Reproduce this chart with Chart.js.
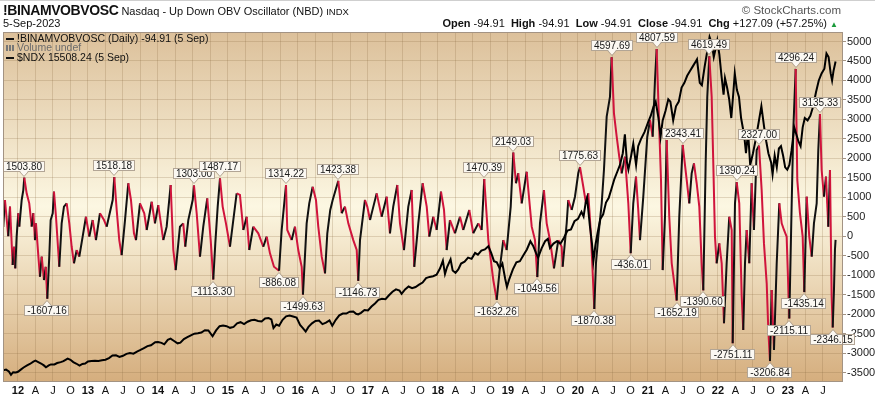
<!DOCTYPE html>
<html lang="en">
<head>
<meta charset="UTF-8">
<title>!BINAMVOBVOSC - Nasdaq Up Down OBV Oscillator</title>
<script src="https://cdn.jsdelivr.net/npm/chart.js@4.4.0/dist/chart.umd.min.js"></script>
<style>
    html, body { margin: 0; padding: 0; background: #fff; }
    body { width: 875px; height: 397px; position: relative; overflow: hidden; font-family: "Liberation Sans", Arial, sans-serif; color: #111; }
    #chart { position: absolute; left: 0; top: 0; }
    .abs { position: absolute; white-space: nowrap; }
    #topline { left: 0; top: 0; width: 875px; height: 1px; background: #cfcfcf; }
    #title { left: 3px; top: 3px; font-size: 11px; line-height: 14px; }
    #title b { font-size: 14px; letter-spacing: -0.4px; }
    #title small { font-size: 9.5px; }
    #date { left: 3px; top: 17px; font-size: 11px; }
    #brand { right: 34px; top: 4px; font-size: 11.5px; color: #555; }
    #ohlc { right: 37px; top: 17px; font-size: 11px; }
    #ohlc .up { color: #1a9a3a; font-size: 8px; }
    #legend { left: 6px; top: 34px; font-size: 10.5px; line-height: 9.4px; }
    #legend .dash { display: inline-block; width: 8px; height: 2px; background: #111; vertical-align: middle; margin-right: 3px; }
    #legend .vol { color: #6c6c6c; }
    #legend .bars { display: inline-block; width: 8px; height: 6px; margin-right: 3px;
        background: linear-gradient(90deg, #777 0 2px, transparent 2px 3px, #777 3px 5px, transparent 5px 6px, #777 6px 8px); }
</style>
</head>
<body>
<canvas id="chart" width="875" height="397"></canvas>
<div class="abs" id="topline"></div>
<div class="abs" id="title"><b>!BINAMVOBVOSC</b> Nasdaq - Up Down OBV Oscillator (NBD) <small>INDX</small></div>
<div class="abs" id="date">5-Sep-2023</div>
<div class="abs" id="brand">&copy; StockCharts.com</div>
<div class="abs" id="ohlc"><b>Open</b> -94.91 &nbsp;<b>High</b> -94.91 &nbsp;<b>Low</b> -94.91 &nbsp;<b>Close</b> -94.91 &nbsp;<b>Chg</b> +127.09 (+57.25%) <span class="up">&#9650;</span></div>
<div class="abs" id="legend">
    <div><span class="dash"></span>!BINAMVOBVOSC (Daily) -94.91 (5 Sep)</div>
    <div class="vol"><span class="bars"></span>Volume undef</div>
    <div><span class="dash"></span>$NDX 15508.24 (5 Sep)</div>
</div>

<script>
    // dates are decimal years (2012.5 = start of July 2012)
    const oscDates = [
        2011.790, 2011.814, 2011.861, 2011.886, 2011.924, 2011.943, 2011.961, 2011.981,
        2012.004, 2012.019, 2012.053, 2012.076, 2012.090, 2012.124, 2012.161, 2012.196,
        2012.219, 2012.243, 2012.257, 2012.290, 2012.314, 2012.339, 2012.371, 2012.396,
        2012.419, 2012.447, 2012.467, 2012.496, 2012.514, 2012.543, 2012.590, 2012.624,
        2012.657, 2012.696, 2012.733, 2012.767, 2012.800, 2012.839, 2012.876, 2012.924,
        2012.971, 2013.019, 2013.067, 2013.114, 2013.171, 2013.229, 2013.267, 2013.353,
        2013.376, 2013.410, 2013.447, 2013.481, 2013.529, 2013.576, 2013.614, 2013.657,
        2013.686, 2013.743, 2013.804, 2013.839, 2013.910, 2013.957, 2014.004, 2014.076,
        2014.124, 2014.181, 2014.219, 2014.253, 2014.314, 2014.361, 2014.390, 2014.433,
        2014.496, 2014.514, 2014.553, 2014.600, 2014.647, 2014.704, 2014.753, 2014.790,
        2014.819, 2014.853, 2014.886, 2014.924, 2014.971, 2015.029, 2015.124, 2015.171,
        2015.219, 2015.267, 2015.304, 2015.361, 2015.433, 2015.504, 2015.553, 2015.600,
        2015.657, 2015.729, 2015.767, 2015.829, 2015.847, 2015.910, 2015.957, 2016.004,
        2016.053, 2016.071, 2016.124, 2016.161, 2016.210, 2016.257, 2016.290, 2016.339,
        2016.386, 2016.419, 2016.461, 2016.496, 2016.576, 2016.624, 2016.671, 2016.719,
        2016.790, 2016.839, 2016.861, 2016.886, 2016.957, 2016.990, 2017.029, 2017.124,
        2017.196, 2017.267, 2017.314, 2017.361, 2017.419, 2017.457, 2017.514, 2017.576,
        2017.624, 2017.661, 2017.719, 2017.781, 2017.839, 2017.876, 2017.933, 2017.981,
        2018.043, 2018.086, 2018.124, 2018.171, 2018.243, 2018.314, 2018.361, 2018.447,
        2018.504, 2018.576, 2018.624, 2018.661, 2018.719, 2018.790, 2018.839, 2018.886,
        2018.933, 2018.981, 2019.039, 2019.076, 2019.114, 2019.147, 2019.196, 2019.267,
        2019.339, 2019.386, 2019.419, 2019.457, 2019.514, 2019.553, 2019.600, 2019.657,
        2019.719, 2019.767, 2019.781, 2019.839, 2019.861, 2019.910, 2019.957, 2020.004,
        2020.029, 2020.076, 2020.114, 2020.147, 2020.181, 2020.204, 2020.233, 2020.257,
        2020.290, 2020.339, 2020.371, 2020.410, 2020.457, 2020.481, 2020.514, 2020.553,
        2020.590, 2020.624, 2020.671, 2020.719, 2020.753, 2020.790, 2020.829, 2020.861,
        2020.886, 2020.933, 2020.990, 2021.029, 2021.067, 2021.100, 2021.124, 2021.157,
        2021.186, 2021.210, 2021.243, 2021.267, 2021.304, 2021.339, 2021.376, 2021.410,
        2021.447, 2021.496, 2021.553, 2021.590, 2021.624, 2021.657, 2021.696, 2021.733,
        2021.767, 2021.790, 2021.824, 2021.847, 2021.876, 2021.910, 2021.933, 2021.957,
        2021.981, 2022.019, 2022.053, 2022.086, 2022.124, 2022.161, 2022.196, 2022.210,
        2022.243, 2022.267, 2022.304, 2022.339, 2022.361, 2022.386, 2022.410, 2022.447,
        2022.481, 2022.514, 2022.553, 2022.586, 2022.624, 2022.657, 2022.696, 2022.719,
        2022.743, 2022.767, 2022.800, 2022.839, 2022.876, 2022.910, 2022.943, 2022.981,
        2023.019, 2023.053, 2023.076, 2023.110, 2023.133, 2023.171, 2023.210, 2023.233,
        2023.267, 2023.304, 2023.339, 2023.371, 2023.410, 2023.433, 2023.457, 2023.481,
        2023.514, 2023.543, 2023.576, 2023.600, 2023.624, 2023.639, 2023.657, 2023.671,
        2023.680
    ];
    const oscValues = [
        240, 930, 0, 760, -740, -270, -825, -10,
        590, 245, 930, 1185, 1503.80, 1100, 845, 245,
        590, -100, 330, -485, -1040, -525, -1125, -785,
        -1607.16, -525, 415, 590, 1145, 500, -785, 330,
        760, 845, 330, -270, -695, -355, -525, -10,
        500, -10, 415, -100, 590, 415, 245, 930,
        1518.18, 675, -100, -485, 415, 1360, 930, 75,
        -100, 845, 590, 160, 885, 330, 800, -100,
        245, 1315, -355, -870, 245, 330, -270, 415,
        930, 1303.00, 590, -525, 245, 970, -100, -1113.30,
        -185, 760, 1487.17, 760, 330, -270, 1100, 1060,
        160, 500, -355, 245, 75, -270, -10, -440,
        -785, -886.08, 160, 1314.22, 160, -100, 245, -355,
        -785, -1499.63, 330, 845, 1270, 930, 245, -525,
        -955, 75, 675, 930, 1423.38, 590, 760, 330,
        -100, -355, -1146.73, -100, 930, 760, 415, 1100,
        500, 1015, 75, 760, 1315, 330, -355, 760,
        1185, -785, 330, 1360, 760, -10, 500, 160,
        1145, 675, -355, 415, 75, 500, 160, 675,
        75, 330, 160, 1470.39, -100, -1125, -1632.26, -785,
        -100, -355, 760, 2149.03, 1360, 1615, 845, 1655,
        245, -100, -1049.56, 330, 1185, 330, -100, -825,
        -100, -270, -785, 340, 930, 675, 1015, 1615,
        1775.63, 1270, 845, 1100, 160, -695, -1870.38, -695,
        -10, 845, 1700, 3070, 3580, 4597.69, 3155, 2555,
        2040, 1615, 2040, 845, -436.01, 845, 1530, 675,
        -100, 1015, 2555, 2985, 2555, 4010, 4807.59, 2985,
        1445, -870, 500, 2470, 500, -695, -1210, -1652.19,
        500, 2343.41, 1445, 845, 1615, 1870, 1360, 760,
        -695, -1390.60, 1870, 3580, 4619.49, 3580, 1870, -10,
        -695, -185, -695, -2235, -695, 500, 160, -2751.11,
        845, 1390.24, 845, -1555, -2410, -695, 160, -695,
        1360, 160, 2215, 2327.00, 1185, -185, -1210, -2410,
        -3206.84, -1380, -2920, -695, 845, 330, 160, -10,
        -2115.11, 845, 2725, 4296.24, 1445, 590, -10, -1435.14,
        1015, -10, -525, 330, 845, 2215, 3135.33, 1700,
        1015, 1530, 245, 1700, -1555, -2346.15, -1380, -355,
        -94.91
    ];

    const ndxDates = [
        2011.790, 2011.830, 2011.870, 2011.900, 2011.930, 2011.970, 2012.000, 2012.040,
        2012.080, 2012.130, 2012.170, 2012.220, 2012.250, 2012.290, 2012.330, 2012.370,
        2012.400, 2012.440, 2012.470, 2012.520, 2012.560, 2012.610, 2012.650, 2012.710,
        2012.750, 2012.790, 2012.830, 2012.880, 2012.920, 2012.960, 2013.000, 2013.050,
        2013.100, 2013.150, 2013.200, 2013.250, 2013.300, 2013.350, 2013.400, 2013.450,
        2013.500, 2013.550, 2013.600, 2013.650, 2013.700, 2013.750, 2013.800, 2013.850,
        2013.900, 2013.960, 2014.000, 2014.050, 2014.090, 2014.140, 2014.180, 2014.230,
        2014.280, 2014.320, 2014.370, 2014.420, 2014.470, 2014.520, 2014.570, 2014.620,
        2014.670, 2014.720, 2014.780, 2014.830, 2014.880, 2014.930, 2014.980, 2015.030,
        2015.080, 2015.130, 2015.180, 2015.230, 2015.280, 2015.330, 2015.380, 2015.430,
        2015.480, 2015.530, 2015.580, 2015.620, 2015.650, 2015.690, 2015.730, 2015.780,
        2015.830, 2015.880, 2015.930, 2015.980, 2016.030, 2016.070, 2016.110, 2016.150,
        2016.200, 2016.250, 2016.300, 2016.350, 2016.400, 2016.450, 2016.490, 2016.540,
        2016.590, 2016.640, 2016.690, 2016.740, 2016.790, 2016.830, 2016.860, 2016.900,
        2016.950, 2017.000, 2017.050, 2017.100, 2017.150, 2017.200, 2017.250, 2017.300,
        2017.350, 2017.400, 2017.450, 2017.480, 2017.530, 2017.580, 2017.630, 2017.680,
        2017.730, 2017.780, 2017.830, 2017.880, 2017.930, 2017.980, 2018.030, 2018.070,
        2018.100, 2018.130, 2018.180, 2018.210, 2018.250, 2018.290, 2018.330, 2018.380,
        2018.430, 2018.480, 2018.530, 2018.570, 2018.620, 2018.670, 2018.720, 2018.760,
        2018.800, 2018.840, 2018.880, 2018.920, 2018.960, 2018.985, 2019.020, 2019.070,
        2019.120, 2019.170, 2019.220, 2019.270, 2019.320, 2019.360, 2019.400, 2019.430,
        2019.480, 2019.530, 2019.570, 2019.600, 2019.650, 2019.700, 2019.750, 2019.800,
        2019.850, 2019.900, 2019.950, 2020.000, 2020.050, 2020.080, 2020.110, 2020.130,
        2020.170, 2020.200, 2020.220, 2020.250, 2020.280, 2020.320, 2020.360, 2020.400,
        2020.440, 2020.480, 2020.520, 2020.560, 2020.600, 2020.640, 2020.670, 2020.700,
        2020.720, 2020.760, 2020.790, 2020.830, 2020.860, 2020.900, 2020.950, 2021.000,
        2021.040, 2021.080, 2021.110, 2021.150, 2021.180, 2021.210, 2021.250, 2021.290,
        2021.320, 2021.360, 2021.400, 2021.440, 2021.480, 2021.520, 2021.560, 2021.600,
        2021.640, 2021.680, 2021.700, 2021.740, 2021.770, 2021.810, 2021.850, 2021.880,
        2021.910, 2021.940, 2021.970, 2021.990, 2022.020, 2022.050, 2022.080, 2022.100,
        2022.130, 2022.160, 2022.190, 2022.220, 2022.240, 2022.270, 2022.300, 2022.330,
        2022.360, 2022.380, 2022.400, 2022.430, 2022.460, 2022.500, 2022.540, 2022.580,
        2022.620, 2022.660, 2022.690, 2022.720, 2022.760, 2022.780, 2022.810, 2022.840,
        2022.870, 2022.900, 2022.930, 2022.960, 2022.990, 2023.020, 2023.050, 2023.090,
        2023.120, 2023.150, 2023.180, 2023.210, 2023.240, 2023.280, 2023.320, 2023.360,
        2023.400, 2023.440, 2023.480, 2023.520, 2023.550, 2023.580, 2023.610, 2023.630,
        2023.650, 2023.680
    ];
    const ndxValues = [
        2350, 2380, 2300, 2160, 2270, 2260, 2290, 2380,
        2470, 2560, 2620, 2720, 2760, 2700, 2640, 2560,
        2480, 2560, 2600, 2600, 2660, 2700, 2740, 2850,
        2800, 2700, 2640, 2550, 2620, 2640, 2730, 2750,
        2760, 2750, 2780, 2800, 2870, 2980, 2990, 2920,
        2970, 3050, 3090, 3060, 3150, 3220, 3300, 3380,
        3420, 3550, 3560, 3520, 3460, 3650, 3700, 3600,
        3500, 3530, 3680, 3760, 3840, 3910, 3930, 3960,
        4060, 4050, 3800, 4050, 4230, 4260, 4230, 4160,
        4200, 4350, 4400, 4320, 4420, 4480, 4500, 4450,
        4430, 4560, 4580, 4520, 4150, 4300, 4250, 4500,
        4650, 4680, 4640, 4600, 4280, 4150, 4000, 4200,
        4350, 4450, 4470, 4320, 4380, 4480, 4250, 4500,
        4690, 4770, 4770, 4850, 4860, 4760, 4730, 4800,
        4920, 4900, 5070, 5200, 5350, 5400, 5380, 5550,
        5700, 5800, 5750, 5610, 5800, 5920, 5850, 5900,
        6000, 6090, 6280, 6330, 6360, 6420, 6700, 7020,
        6450, 6750, 7080, 6600, 6500, 6650, 6900, 6980,
        7150, 7100, 7350, 7280, 7450, 7500, 7640, 7350,
        7000, 6950, 6700, 6900, 6250, 5900, 6250, 6650,
        6950, 7000, 7250, 7500, 7850, 7650, 7350, 7150,
        7550, 7850, 7950, 7560, 7750, 7850, 7750, 8000,
        8300, 8350, 8700, 8800, 9100, 8900, 9500, 9700,
        8500, 7750, 7000, 7700, 8200, 8800, 9000, 9500,
        9700, 10100, 10500, 10800, 11100, 11600, 12400, 11200,
        10900, 11500, 12000, 11100, 11900, 12200, 12500, 12900,
        13200, 13600, 13800, 13100, 12300, 13000, 13400, 13900,
        13800, 13000, 13600, 13800, 14400, 14600, 14900, 15100,
        15300, 15500, 15600, 14600, 14500, 15300, 16000, 16550,
        16300, 15700, 16100, 16400, 15800, 14900, 14100, 14800,
        14400, 13900, 13100, 14200, 15000, 14300, 14000, 13100,
        12600, 12200, 11600, 12500, 11100, 11600, 12200, 12900,
        13600, 12700, 12100, 11600, 11200, 10700, 11500, 11000,
        11800, 11900, 11500, 11000, 10900, 11100, 11700, 12700,
        12400, 12100, 11900, 12700, 13100, 13000, 13200, 13600,
        14200, 14700, 15000, 15200, 15850, 15700, 15000, 14700,
        15100, 15508.24
    ];

    // labelled turning points of the oscillator
    const calloutValues = [
        1503.80, 1518.18, 1303.00, 1487.17, 1314.22, 1423.38, 1470.39, 2149.03,
        1775.63, 4597.69, 4807.59, 2343.41, 4619.49, 1390.24, 2327.00, 4296.24, 3135.33,
        -1607.16, -1113.30, -886.08, -1499.63, -1146.73, -1632.26, -1049.56, -1870.38,
        -436.01, -1652.19, -1390.60, -2751.11, -3206.84, -2115.11, -1435.14, -2346.15
    ];

    const years = [12, 13, 14, 15, 16, 17, 18, 19, 20, 21, 22, 23];
    const quarterNames = ['A', 'J', 'O'];
    const lastTick = 2023.5;
    const yTicks = [-3500, -3000, -2500, -2000, -1500, -1000, -500, 0, 500, 1000, 1500, 2000, 2500, 3000, 3500, 4000, 4500, 5000];

    const RED = '#d0143c';
    const FONT = '"Liberation Sans", Arial, sans-serif';

    function quarterLabel(v) {
        const yr = Math.floor(v + 1e-6);
        const q = Math.round((v - yr) * 4);
        return q === 0 ? String(yr - 2000) : quarterNames[q - 1];
    }

    const bgPlugin = {
        id: 'bg',
        beforeDraw(chart) {
            const { ctx, chartArea: a } = chart;
            const g = ctx.createLinearGradient(0, a.top, 0, a.bottom);
            g.addColorStop(0, '#dcc09a');
            g.addColorStop(0.5, '#fcf7e2');
            g.addColorStop(1, '#d5ae7e');
            ctx.save();
            ctx.fillStyle = g;
            ctx.fillRect(a.left, a.top, a.right - a.left, a.bottom - a.top);
            ctx.restore();
        },
        afterDraw(chart) {
            const { ctx, chartArea: a } = chart;
            ctx.save();
            ctx.strokeStyle = '#a39383';
            ctx.lineWidth = 1;
            ctx.strokeRect(a.left + 0.5, a.top + 0.5, a.right - a.left - 1, a.bottom - a.top);
            ctx.restore();
        }
    };

    const calloutPlugin = {
        id: 'callouts',
        afterDatasetsDraw(chart) {
            const ctx = chart.ctx;
            const xs = chart.scales.x, ys = chart.scales.y;
            ctx.save();
            ctx.font = '10px ' + FONT;
            ctx.textAlign = 'center';
            ctx.textBaseline = 'middle';
            calloutValues.forEach(v => {
                const i = oscValues.indexOf(v);
                if (i < 0) return;
                const px = Math.round(xs.getPixelForValue(oscDates[i]));
                const py = ys.getPixelForValue(v);
                const txt = v.toFixed(2);
                const w = Math.round(ctx.measureText(txt).width) + 6, h = 11;
                const up = v > 0;
                const by = up ? Math.round(py) - 6 - h : Math.round(py) + 6;
                const bx = px - Math.round(w / 2);
                ctx.fillStyle = '#fbf8f2';
                ctx.strokeStyle = '#b2a595';
                ctx.lineWidth = 1;
                ctx.fillRect(bx, by, w, h);
                ctx.strokeRect(bx + 0.5, by + 0.5, w - 1, h - 1);
                // pointer
                const baseY = up ? by + h - 1 : by + 1;
                ctx.beginPath();
                ctx.moveTo(px - 4, baseY);
                ctx.lineTo(px, up ? baseY + 5 : baseY - 5);
                ctx.lineTo(px + 4, baseY);
                ctx.closePath();
                ctx.fill();
                ctx.beginPath();
                ctx.moveTo(px - 4.5, baseY + (up ? 0.5 : -0.5));
                ctx.lineTo(px, up ? baseY + 5.5 : baseY - 5.5);
                ctx.lineTo(px + 4.5, baseY + (up ? 0.5 : -0.5));
                ctx.stroke();
                ctx.fillStyle = '#1a1a1a';
                ctx.fillText(txt, px, by + h / 2 + 0.5);
            });
            ctx.restore();
        }
    };

    const oscPts = oscDates.map((d, i) => ({ x: d, y: oscValues[i] }));
    const ndxPts = ndxDates.map((d, i) => ({ x: d, y: ndxValues[i] }));

    new Chart(document.getElementById('chart'), {
        type: 'line',
        data: {
            datasets: [
                {
                    label: '!BINAMVOBVOSC',
                    data: oscPts,
                    yAxisID: 'y',
                    borderColor: RED,
                    borderWidth: 2,
                    pointRadius: 0,
                    tension: 0,
                    order: 2,
                    segment: {
                        borderColor: c => c.p1.parsed.y > c.p0.parsed.y ? '#111' : RED
                    }
                },
                {
                    label: '$NDX',
                    data: ndxPts,
                    yAxisID: 'yNdx',
                    borderColor: '#000',
                    borderWidth: 2,
                    pointRadius: 0,
                    tension: 0,
                    order: 1
                }
            ]
        },
        options: {
            responsive: false,
            animation: false,
            devicePixelRatio: 1,
            layout: { padding: { top: 32, left: 3, right: 0, bottom: 0 } },
            plugins: { legend: { display: false }, tooltip: { enabled: false } },
            scales: {
                x: {
                    type: 'linear',
                    min: 2011.786,
                    max: 2023.786,
                    afterBuildTicks(scale) {
                        const t = [];
                        years.forEach(y => {
                            for (let q = 0; q < 4; q++) {
                                const v = 2000 + y + q / 4;
                                if (v <= lastTick) t.push({ value: v });
                            }
                        });
                        scale.ticks = t;
                    },
                    afterFit(scale) { scale.height = 16; },
                    grid: { color: 'rgba(130,100,60,0.22)', drawTicks: false },
                    border: { display: false },
                    ticks: {
                        padding: 3,
                        maxRotation: 0,
                        autoSkip: false,
                        color: '#111',
                        font: c => ({ family: FONT, size: 11, weight: (c.tick && Math.abs(c.tick.value % 1) < 1e-6) ? 'bold' : 'normal' }),
                        callback: v => quarterLabel(v)
                    }
                },
                y: {
                    position: 'right',
                    min: -3718,
                    max: 5244,
                    afterBuildTicks(scale) { scale.ticks = yTicks.map(v => ({ value: v })); },
                    afterFit(scale) { scale.width = 32; },
                    grid: { color: 'rgba(130,100,60,0.22)', tickLength: 3, tickColor: '#a39383' },
                    border: { display: false },
                    ticks: {
                        crossAlign: 'near',
                        padding: 1,
                        color: '#222',
                        font: { family: FONT, size: 11 },
                        callback: v => String(v)
                    }
                },
                yNdx: {
                    display: false,
                    min: 1895,
                    max: 16765
                }
            }
        },
        plugins: [bgPlugin, calloutPlugin]
    });
</script>
</body>
</html>
